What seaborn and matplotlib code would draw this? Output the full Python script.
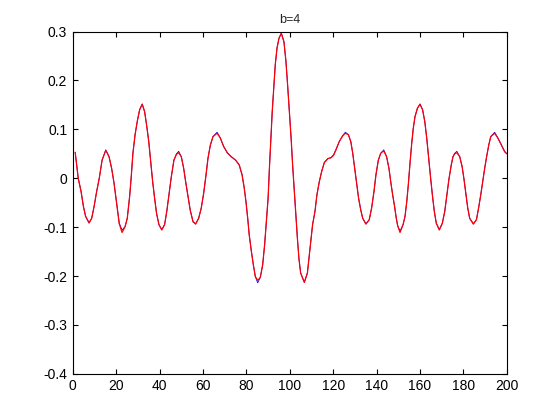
import matplotlib
matplotlib.use("Agg")
import matplotlib.pyplot as plt
import seaborn as sns
import pandas as pd

x_vals = [1.1, 2.5, 3.8, 4.9, 5.9, 7.5, 8.7, 9.8, 11.0, 12.2, 13.5, 15.2, 16.7, 17.9, 19.0, 19.9,
          20.7, 21.4, 22.7, 24.1, 25.1, 26.2, 27.0, 27.7, 28.7, 29.7, 30.8, 32.0, 33.1, 34.0, 35.0,
          35.9, 36.8, 37.7, 38.6, 39.7, 41.0, 42.3, 43.3, 44.3, 45.4, 46.6, 47.8, 48.8, 50.0, 51.1,
          52.0, 53.1, 54.1, 55.4, 56.6, 58.0, 59.2, 60.3, 61.4, 62.3, 63.4, 64.6, 66.5, 68.0, 69.5,
          71.2, 73.0, 75.0, 76.7, 78.0, 79.0, 79.8, 80.6, 81.3, 82.3, 83.2, 84.1, 85.2, 86.4, 87.5,
          88.4, 89.2, 90.0, 90.6, 91.3, 91.9, 92.6, 93.3, 94.1, 95.0, 96.1, 97.3, 98.2, 99.0, 99.8,
          100.6, 101.3, 102.1, 102.9, 103.5, 104.2, 105.0, 106.7, 108.1, 109.0, 109.8, 110.5, 111.6,
          112.5, 113.6, 114.7, 115.9, 117.5, 119.0, 120.2, 121.3, 122.8, 124.4, 125.6, 127.0, 128.1,
          129.0, 129.9, 130.8, 131.7, 132.7, 133.6, 135.1, 136.6, 137.7, 138.8, 139.7, 140.8, 141.9,
          143.3, 144.6, 145.7, 146.6, 147.4, 148.3, 149.0, 149.7, 150.8, 152.2, 153.1, 153.9, 154.6,
          155.4, 156.2, 156.9, 157.7, 158.8, 160.0, 161.2, 162.2, 163.1, 164.0, 164.9, 165.7, 166.6,
          167.5, 168.9, 170.3, 171.4, 172.3, 173.3, 174.4, 175.2, 176.0, 177.0, 178.3, 179.4, 180.3,
          181.2, 182.0, 182.9, 184.6, 186.0, 187.0, 188.0, 188.9, 189.8, 190.7, 191.7, 192.6, 194.4,
          195.9, 197.5, 199.0, 200.0]

y_blue = [0.053, 0.000, -0.027, -0.058, -0.078, -0.092, -0.082, -0.058, -0.027, 0.000, 0.037, 0.058,
          0.044, 0.020, -0.010, -0.041, -0.068, -0.092, -0.106, -0.099, -0.082, -0.037, 0.007, 0.051,
          0.089, 0.116, 0.140, 0.152, 0.136, 0.109, 0.075, 0.034, -0.007, -0.041, -0.072, -0.095,
          -0.105, -0.095, -0.068, -0.034, 0.003, 0.037, 0.050, 0.055, 0.044, 0.020, -0.007, -0.037,
          -0.065, -0.089, -0.093, -0.082, -0.061, -0.031, 0.007, 0.041, 0.068, 0.085, 0.094, 0.082,
          0.065, 0.052, 0.044, 0.037, 0.027, 0.007, -0.020, -0.048, -0.082, -0.116, -0.150, -0.177,
          -0.201, -0.214, -0.203, -0.177, -0.136, -0.089, -0.041, 0.020, 0.082, 0.136, 0.184, 0.232,
          0.266, 0.286, 0.297, 0.279, 0.240, 0.190, 0.136, 0.082, 0.027, -0.027, -0.082, -0.123,
          -0.164, -0.194, -0.213, -0.194, -0.157, -0.123, -0.095, -0.068, -0.034, -0.007, 0.014,
          0.032, 0.040, 0.042, 0.048, 0.059, 0.075, 0.087, 0.094, 0.089, 0.075, 0.051, 0.020, -0.010,
          -0.041, -0.065, -0.082, -0.093, -0.085, -0.061, -0.027, 0.007, 0.037, 0.051, 0.058, 0.044,
          0.020, -0.010, -0.034, -0.058, -0.080, -0.097, -0.108, -0.095, -0.078, -0.048, -0.014,
          0.031, 0.072, 0.102, 0.126, 0.143, 0.152, 0.140, 0.116, 0.082, 0.041, 0.000, -0.034,
          -0.068, -0.092, -0.105, -0.092, -0.068, -0.037, -0.003, 0.027, 0.044, 0.051, 0.055, 0.044,
          0.024, -0.003, -0.034, -0.061, -0.082, -0.093, -0.085, -0.061, -0.034, -0.007, 0.020, 0.044,
          0.068, 0.085, 0.094, 0.082, 0.068, 0.055, 0.050]

y_red = [0.053, 0.000, -0.027, -0.058, -0.078, -0.091, -0.082, -0.058, -0.027, 0.000, 0.037, 0.057,
         0.044, 0.020, -0.010, -0.041, -0.068, -0.093, -0.111, -0.099, -0.082, -0.037, 0.007, 0.051,
         0.089, 0.116, 0.140, 0.151, 0.136, 0.109, 0.075, 0.034, -0.007, -0.041, -0.072, -0.095,
         -0.106, -0.095, -0.068, -0.034, 0.003, 0.037, 0.049, 0.052, 0.044, 0.020, -0.007, -0.037,
         -0.065, -0.089, -0.094, -0.082, -0.061, -0.031, 0.007, 0.041, 0.068, 0.085, 0.092, 0.082,
         0.065, 0.052, 0.044, 0.037, 0.027, 0.007, -0.020, -0.048, -0.082, -0.116, -0.150, -0.177,
         -0.201, -0.209, -0.203, -0.177, -0.136, -0.089, -0.041, 0.020, 0.082, 0.136, 0.184, 0.232,
         0.266, 0.286, 0.296, 0.279, 0.240, 0.190, 0.136, 0.082, 0.027, -0.027, -0.082, -0.123,
         -0.164, -0.194, -0.213, -0.194, -0.157, -0.123, -0.095, -0.068, -0.034, -0.007, 0.014,
         0.032, 0.040, 0.042, 0.047, 0.058, 0.075, 0.087, 0.092, 0.089, 0.075, 0.051, 0.020, -0.010,
         -0.041, -0.065, -0.082, -0.094, -0.085, -0.061, -0.027, 0.007, 0.037, 0.051, 0.056, 0.044,
         0.020, -0.010, -0.034, -0.058, -0.080, -0.097, -0.111, -0.095, -0.078, -0.048, -0.014,
         0.031, 0.072, 0.102, 0.126, 0.143, 0.151, 0.140, 0.116, 0.082, 0.041, 0.000, -0.034,
         -0.068, -0.092, -0.106, -0.092, -0.068, -0.037, -0.003, 0.027, 0.044, 0.050, 0.052, 0.044,
         0.024, -0.003, -0.034, -0.061, -0.082, -0.094, -0.085, -0.061, -0.034, -0.007, 0.020, 0.044,
         0.068, 0.085, 0.092, 0.082, 0.068, 0.054, 0.050]

x_ticks = [0, 20, 40, 60, 80, 100, 120, 140, 160, 180, 200]
y_ticks = [-0.4, -0.3, -0.2, -0.1, 0, 0.1, 0.2, 0.3]
y_tick_labels = ["-0.4", "-0.3", "-0.2", "-0.1", "0", "0.1", "0.2", "0.3"]
title_text = "b=4"

sns.set_style("ticks")
plt.rcParams["font.family"] = ["Liberation Sans", "DejaVu Sans"]

fig = plt.figure(figsize=(5.6, 4.2), dpi=100)
fig.patch.set_facecolor("white")
ax = fig.add_axes([0.13, 0.11, 0.775, 0.815])

df_b = pd.DataFrame({"x": x_vals, "y": y_blue})
df_r = pd.DataFrame({"x": x_vals, "y": y_red})
sns.lineplot(data=df_b, x="x", y="y", ax=ax, color="#0000ff", linewidth=0.6,
             estimator=None, sort=False)
sns.lineplot(data=df_r, x="x", y="y", ax=ax, color="#ff0000", linewidth=0.9,
             estimator=None, sort=False)

ax.set_xlim(0, 200)
ax.set_ylim(-0.4, 0.3)
ax.set_xticks(x_ticks)
ax.set_xticklabels([str(t) for t in x_ticks])
ax.set_yticks(y_ticks)
ax.set_yticklabels(y_tick_labels)
ax.set_xlabel("")
ax.set_ylabel("")
ax.set_title(title_text, fontsize=9, pad=6)
for s in ax.spines.values():
    s.set_visible(True)
    s.set_color("black")
    s.set_linewidth(0.8)
ax.tick_params(direction="in", length=3.6, width=0.8, top=True, right=True,
               labelsize=10, colors="black", pad=4)
ax.set_facecolor("white")
ax.grid(False)

fig.savefig("out.png", dpi=100, facecolor="white")
